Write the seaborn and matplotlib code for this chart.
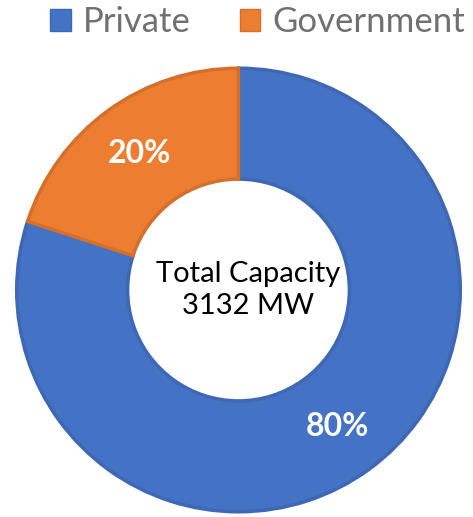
import matplotlib
matplotlib.use("Agg")
import matplotlib.pyplot as plt
import seaborn as sns
from matplotlib.patches import Patch

categories = ["Private", "Government"]
values = [80, 20]
colors = ["#4472C4", "#ED7D31"]
edges = ["#3E68B6", "#D4702C"]
center_text = "Total Capacity\n3132 MW"

sns.set_theme(style="white")
plt.rcParams['font.family'] = ['Lato', 'DejaVu Sans']

W, H = 473, 517
fig = plt.figure(figsize=(W / 100, H / 100), dpi=100)
cx, cy, R = 238.5, 290, 224
ax = fig.add_axes([(cx - R) / W, (H - cy - R) / H, 2 * R / W, 2 * R / H])

wedges, texts, autotexts = ax.pie(
    values, colors=colors, startangle=90, counterclock=False,
    radius=1, autopct="%d%%", pctdistance=0.76,
    wedgeprops=dict(width=0.5, linewidth=2.5),
    textprops=dict(color="white", fontsize=23, fontweight="bold"))
for w, e in zip(wedges, edges):
    w.set_edgecolor(e)
ax.set_xlim(-1.01, 1.01)
ax.set_ylim(-1.01, 1.01)
ax.set_aspect("equal")
ax.axis("off")

ax.text(0.045, 0.0, center_text, ha="center", va="center", fontsize=21,
        color="black", linespacing=1.25)

handles = [Patch(facecolor=c, edgecolor=e, linewidth=1) for c, e in zip(colors, edges)]
leg = fig.legend(handles, categories, loc="center", bbox_to_anchor=(0.545, 1 - 22 / H),
                 ncol=2, frameon=False, fontsize=25, handlelength=0.6, handleheight=0.6,
                 handletextpad=0.35, columnspacing=1.4, labelcolor="#707070")

fig.savefig("out.png", dpi=100)
